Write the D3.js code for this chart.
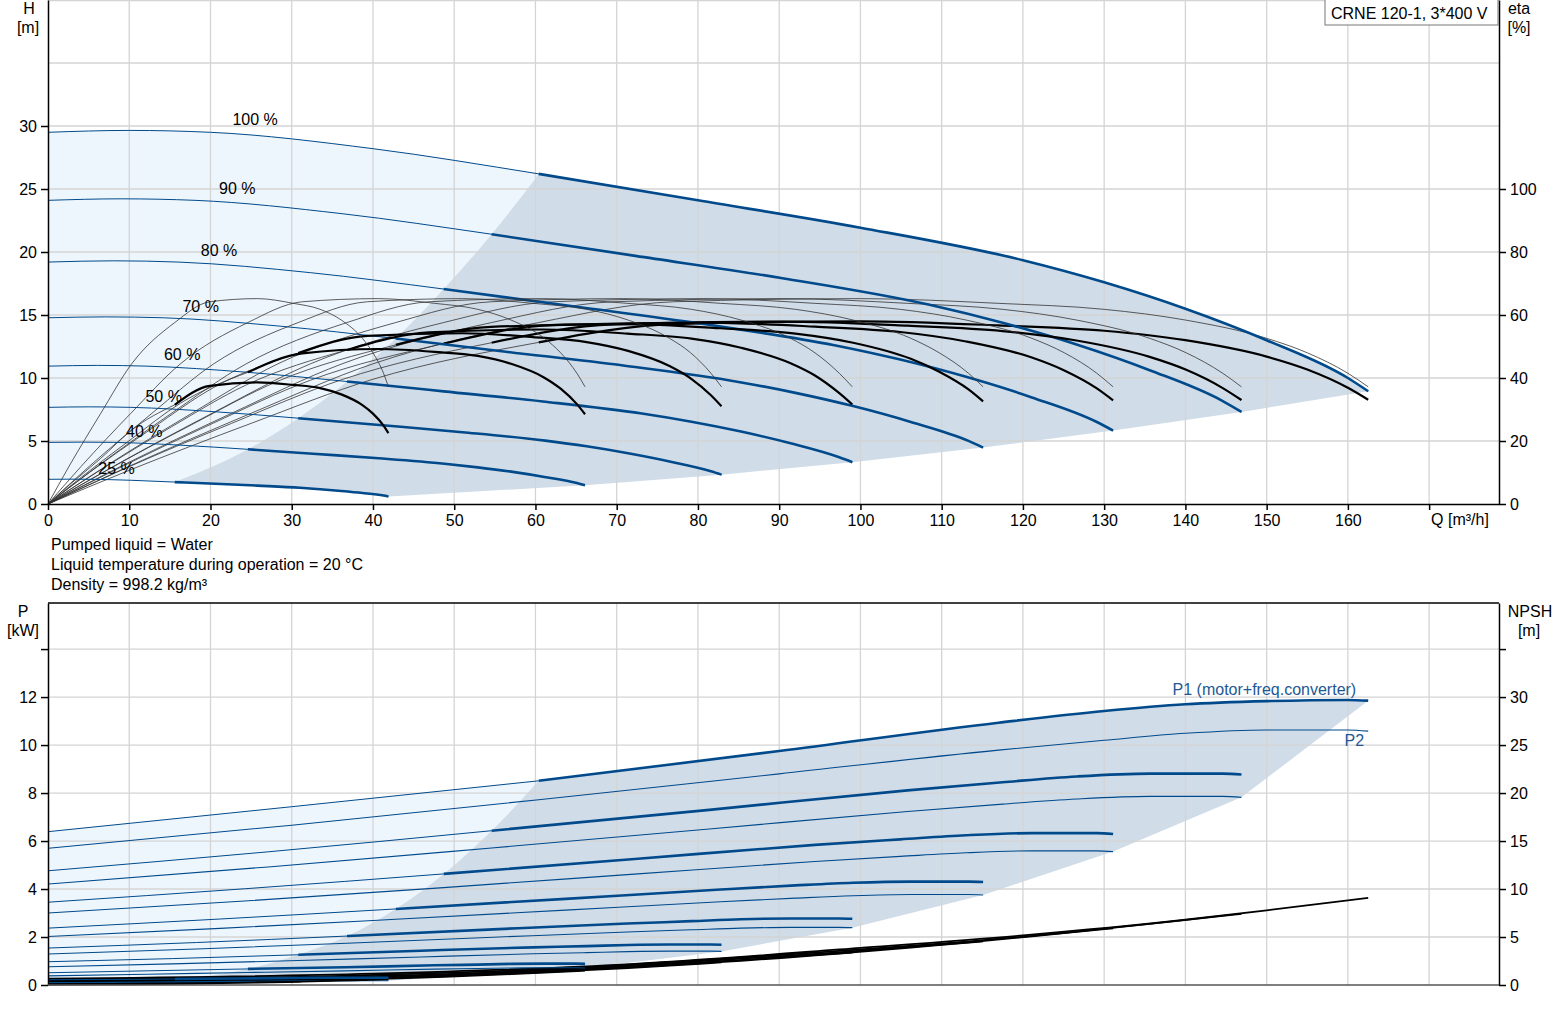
<!DOCTYPE html>
<html lang="en">
<head>
<meta charset="UTF-8">
<title>CRNE 120-1 pump curves</title>
<script src="https://d3js.org/d3.v7.min.js"></script>
<style>
  body { margin: 0; background: #fff; }
  svg { display: block; font-family: "Liberation Sans", Arial, sans-serif; }
  .axis text { font-size: 16px; fill: #000; font-family: "Liberation Sans", Arial, sans-serif; }
  .axis path, .axis line { stroke: #000; stroke-width: 1.5; }
  .lbl { font-size: 16px; fill: #000; }
</style>
</head>
<body>
<script>
// ---- data ----
const speedLabels = ["100 %", "90 %", "80 %", "70 %", "60 %", "50 %", "40 %", "25 %"];
// flow where each speed curve enters the allowed (dark) operating range
const qThick = [60.4, 54.6, 48.7, 42.8, 36.8, 30.8, 24.6, 15.6];

const qTicks = [0, 10, 20, 30, 40, 50, 60, 70, 80, 90, 100, 110, 120, 130, 140, 150, 160, 170];
const headTicks = [0, 5, 10, 15, 20, 25, 30];
const etaTicks = [0, 20, 40, 60, 80, 100];
const powerTicks = [0, 2, 4, 6, 8, 10, 12, 14];
const npshTicks = [0, 5, 10, 15, 20, 25, 30, 35];

// head H [m] vs Q [m3/h], one row per speed
const headQ = [
  [0, 10, 20, 40, 60.4, 80, 100, 120, 130, 140, 150, 160, 162.5],
  [0, 9.0, 18.1, 36.2, 54.6, 72.3, 90.4, 108.5, 117.5, 126.6, 135.6, 144.6, 146.9],
  [0, 8.1, 16.1, 32.3, 48.7, 64.6, 80.7, 96.8, 104.9, 113.0, 121.1, 129.1, 131.1],
  [0, 7.1, 14.2, 28.3, 42.8, 56.6, 70.8, 85.0, 92.0, 99.1, 106.2, 113.3, 115.1],
  [0, 6.1, 12.2, 24.4, 36.8, 48.7, 60.9, 73.1, 79.2, 85.3, 91.4, 97.4, 99.0],
  [0, 5.1, 10.2, 20.4, 30.8, 40.8, 51.0, 61.2, 66.3, 71.4, 76.5, 81.6, 82.9],
  [0, 4.1, 8.1, 16.3, 24.6, 32.6, 40.7, 48.8, 52.9, 57.0, 61.1, 65.1, 66.1],
  [0, 2.6, 5.2, 10.3, 15.6, 20.6, 25.8, 31.0, 33.5, 36.1, 38.7, 41.3, 41.9]
];
const headH = [
  [29.5, 29.65, 29.5, 28.2, 26.2, 24.1, 21.93, 19.35, 17.6, 15.5, 13.0, 10.0, 8.95],
  [24.1, 24.22, 24.1, 23.04, 21.41, 19.69, 17.92, 15.81, 14.38, 12.66, 10.62, 8.17, 7.31],
  [19.2, 19.3, 19.2, 18.36, 17.06, 15.69, 14.28, 12.6, 11.46, 10.09, 8.46, 6.51, 5.83],
  [14.78, 14.85, 14.78, 14.13, 13.13, 12.07, 10.99, 9.69, 8.82, 7.77, 6.51, 5.01, 4.48],
  [10.94, 11.0, 10.94, 10.46, 9.72, 8.94, 8.14, 7.18, 6.53, 5.75, 4.82, 3.71, 3.32],
  [7.67, 7.71, 7.67, 7.33, 6.81, 6.27, 5.70, 5.03, 4.58, 4.03, 3.38, 2.60, 2.33],
  [4.89, 4.91, 4.89, 4.67, 4.34, 3.99, 3.63, 3.20, 2.91, 2.57, 2.15, 1.66, 1.48],
  [1.96, 1.97, 1.96, 1.88, 1.74, 1.61, 1.46, 1.29, 1.17, 1.03, 0.87, 0.67, 0.60]
];

// efficiency eta [%] vs Q, one row per speed
const etaQ = [
  [0, 10, 25, 40, 60.4, 77, 100, 117, 130, 140, 150, 155, 160, 162.5],
  [0, 9.0, 22.6, 36.2, 54.6, 69.6, 90.4, 105.8, 117.5, 126.6, 135.6, 140.1, 144.6, 146.9],
  [0, 8.1, 20.2, 32.3, 48.7, 62.1, 80.7, 94.4, 104.9, 113.0, 121.1, 125.1, 129.1, 131.1],
  [0, 7.1, 17.7, 28.3, 42.8, 54.5, 70.8, 82.8, 92.0, 99.1, 106.2, 109.7, 113.3, 115.1],
  [0, 6.1, 15.2, 24.4, 36.8, 46.9, 60.9, 71.3, 79.2, 85.3, 91.4, 94.4, 97.4, 99.0],
  [0, 5.1, 12.8, 20.4, 30.8, 39.3, 51.0, 59.7, 66.3, 71.4, 76.5, 79.1, 81.6, 82.9],
  [0, 4.1, 10.2, 16.3, 24.6, 31.3, 40.7, 47.6, 52.9, 57.0, 61.1, 63.1, 65.1, 66.1],
  [0, 2.6, 6.5, 10.3, 15.6, 19.9, 25.8, 30.2, 33.5, 36.1, 38.7, 40.0, 41.3, 41.9]
];
// pump efficiency, same shape at every speed (thin lines)
const etaPump = [0, 12, 28.8, 44.5, 57.6, 64.2, 65.2, 63.7, 61.8, 58.4, 52.6, 48.0, 41.5, 37.2];
// total efficiency pump+motor+converter (thick lines)
const etaTotal = [
  [0, 10.7, 25.6, 39.6, 51.3, 57.1, 58.0, 56.7, 55.0, 52.0, 46.8, 42.7, 36.9, 33.1],
  [0, 10.7, 25.6, 39.5, 51.2, 57.0, 57.9, 56.6, 54.9, 51.9, 46.7, 42.6, 36.8, 33.0],
  [0, 10.6, 25.5, 39.3, 50.9, 56.8, 57.6, 56.3, 54.6, 51.6, 46.5, 42.4, 36.7, 32.9],
  [0, 10.5, 25.2, 39.0, 50.5, 56.2, 57.1, 55.8, 54.1, 51.2, 46.1, 42.0, 36.4, 32.6],
  [0, 10.2, 24.5, 37.8, 48.9, 54.5, 55.4, 54.1, 52.5, 49.6, 44.7, 40.8, 35.2, 31.6],
  [0, 10.0, 24.0, 37.0, 47.9, 53.4, 54.2, 53.0, 51.4, 48.6, 43.8, 39.9, 34.5, 31.0],
  [0, 8.5, 20.5, 32.0, 41.8, 47.8, 49.2, 48.3, 47.0, 44.5, 40.1, 36.6, 31.7, 28.5],
  [0, 6.0, 14.5, 23.5, 31.5, 37.5, 38.6, 37.8, 36.8, 34.8, 31.4, 28.7, 24.9, 22.5]
];

// power P [kW] vs Q, one row per speed
const powerQ = [
  [0, 30, 60.4, 90, 117, 130, 140, 150, 160, 162.5],
  [0, 27.1, 54.6, 81.4, 105.8, 117.5, 126.6, 135.6, 144.6, 146.9],
  [0, 24.2, 48.7, 72.6, 94.4, 104.9, 113.0, 121.1, 129.1, 131.1],
  [0, 21.2, 42.8, 63.7, 82.8, 92.0, 99.1, 106.2, 113.3, 115.1],
  [0, 18.3, 36.8, 54.8, 71.3, 79.2, 85.3, 91.4, 97.4, 99.0],
  [0, 15.3, 30.8, 45.9, 59.7, 66.3, 71.4, 76.5, 81.6, 82.9],
  [0, 12.2, 24.6, 36.6, 47.6, 52.9, 57.0, 61.1, 65.1, 66.1],
  [0, 7.7, 15.6, 23.2, 30.2, 33.5, 36.1, 38.7, 41.3, 41.9]
];
const powerP1 = [
  [6.39, 7.43, 8.51, 9.75, 10.93, 11.42, 11.7, 11.83, 11.88, 11.85],
  [4.76, 5.55, 6.43, 7.30, 8.11, 8.45, 8.69, 8.81, 8.81, 8.77],
  [3.45, 4.01, 4.63, 5.26, 5.84, 6.07, 6.24, 6.33, 6.33, 6.29],
  [2.37, 2.75, 3.17, 3.59, 3.98, 4.15, 4.26, 4.31, 4.31, 4.29],
  [1.54, 1.77, 2.04, 2.32, 2.56, 2.66, 2.74, 2.77, 2.77, 2.76],
  [0.97, 1.10, 1.26, 1.43, 1.57, 1.62, 1.67, 1.69, 1.69, 1.68],
  [0.51, 0.59, 0.67, 0.74, 0.82, 0.85, 0.88, 0.89, 0.89, 0.88],
  [0.22, 0.23, 0.25, 0.27, 0.29, 0.30, 0.30, 0.30, 0.30, 0.30]
];
const powerP2 = [
  [5.70, 6.66, 7.72, 8.8, 9.79, 10.2, 10.49, 10.63, 10.63, 10.58],
  [4.21, 4.92, 5.71, 6.50, 7.23, 7.54, 7.75, 7.86, 7.86, 7.82],
  [3.00, 3.50, 4.06, 4.63, 5.15, 5.36, 5.51, 5.59, 5.59, 5.56],
  [2.02, 2.36, 2.74, 3.12, 3.47, 3.62, 3.72, 3.77, 3.77, 3.75],
  [1.29, 1.50, 1.74, 1.99, 2.21, 2.30, 2.37, 2.40, 2.40, 2.39],
  [0.76, 0.88, 1.02, 1.17, 1.30, 1.35, 1.39, 1.41, 1.41, 1.40],
  [0.38, 0.45, 0.52, 0.59, 0.66, 0.69, 0.71, 0.72, 0.72, 0.71],
  [0.10, 0.11, 0.13, 0.15, 0.17, 0.18, 0.18, 0.18, 0.18, 0.18]
];

// NPSH [m] vs Q, one row per speed
const npshQ = [
  [0, 40, 70, 100, 120, 140, 150, 160, 162.5],
  [0, 36.2, 63.3, 90.4, 108.5, 126.6, 135.6, 144.6, 146.9],
  [0, 32.3, 56.5, 80.7, 96.8, 113.0, 121.1, 129.1, 131.1],
  [0, 28.3, 49.6, 70.8, 85.0, 99.1, 106.2, 113.3, 115.1],
  [0, 24.4, 42.6, 60.9, 73.1, 85.3, 91.4, 97.4, 99.0],
  [0, 20.4, 35.7, 51.0, 61.2, 71.4, 76.5, 81.6, 82.9],
  [0, 16.3, 28.5, 40.7, 48.8, 57.0, 61.1, 65.1, 66.1],
  [0, 10.3, 18.1, 25.8, 31.0, 36.1, 38.7, 41.3, 41.9]
];
const npshH = [
  [0.67, 1.18, 2.1, 3.86, 5.16, 6.8, 7.78, 8.82, 9.07],
  [0.55, 0.96, 1.72, 3.15, 4.22, 5.56, 6.36, 7.21, 7.41],
  [0.44, 0.77, 1.37, 2.51, 3.36, 4.43, 5.06, 5.74, 5.90],
  [0.34, 0.59, 1.05, 1.93, 2.59, 3.41, 3.90, 4.42, 4.54],
  [0.25, 0.44, 0.78, 1.43, 1.91, 2.52, 2.89, 3.27, 3.37],
  [0.17, 0.31, 0.55, 1.0, 1.34, 1.77, 2.02, 2.29, 2.36],
  [0.11, 0.20, 0.35, 0.64, 0.85, 1.13, 1.29, 1.46, 1.50],
  [0.04, 0.08, 0.14, 0.26, 0.34, 0.45, 0.52, 0.59, 0.60]
];

// ---- layout ----
const width = 1560, height = 1009;
const left = 48, right = 1499;
const topH = 0, bottomH = 504, topP = 603, bottomP = 985;

const blue = "#004a8c", black = "#000", gridColor = "#d4d4d4";
const lightFill = "#eef6fd", darkFill = "#d0dce8";

const x = d3.scaleLinear().domain([0, 178.6]).range([left, right]);
const yH = d3.scaleLinear().domain([0, 40]).range([bottomH, topH]);
const yEta = d3.scaleLinear().domain([0, 160]).range([bottomH, topH]);
const yP = d3.scaleLinear().domain([0, 15.92]).range([bottomP, topP]);
const yN = d3.scaleLinear().domain([0, 39.8]).range([bottomP, topP]);

const svg = d3.select("body").append("svg")
  .attr("width", width)
  .attr("height", height);

let pts = (qs, vs) => qs.map((q, i) => [q, vs[i]]);
let lineFor = (ys, curve) => d3.line().x(d => x(d[0])).y(d => ys(d[1])).curve(curve || d3.curveMonotoneX);
let fromQ = (arr, q0) => arr.filter(d => d[0] >= q0 - 1e-6);
let toQ = (arr, q0) => arr.filter(d => d[0] <= q0 + 1e-6);
let last = a => a[a.length - 1];

// segments: [points, straight?]
function joinPath(segs, ys) {
  return segs.map((s, i) => {
    const d = lineFor(ys, s[1] ? d3.curveLinear : d3.curveMonotoneX)(s[0]);
    return i ? d.replace(/^M/, "L") : d;
  }).join("") + "Z";
}

// ---- top panel fills ----
const head = headQ.map((qs, i) => pts(qs, headH[i]));
const headStarts = head.map((c, i) => fromQ(c, qThick[i])[0]);
const headEnds = head.map(c => last(c));

svg.append("path")
  .attr("d", joinPath([
    [toQ(head[0], qThick[0])],
    [headStarts],
    [toQ(head[7], qThick[7]).reverse()]
  ], yH))
  .attr("fill", lightFill);

svg.append("path")
  .attr("d", joinPath([
    [headStarts.slice().reverse()],
    [fromQ(head[0], qThick[0])],
    [headEnds, true],
    [fromQ(head[7], qThick[7]).reverse()]
  ], yH))
  .attr("fill", darkFill);

// ---- bottom panel fills ----
const p1 = powerQ.map((qs, i) => pts(qs, powerP1[i]));
const p2 = powerQ.map((qs, i) => pts(qs, powerP2[i]));
const p1Starts = p1.map((c, i) => fromQ(c, qThick[i])[0]);
const rightEdge = [last(p1[0])].concat(p2.slice(1).map(c => last(c)));

svg.append("path")
  .attr("d", joinPath([
    [toQ(p1[0], qThick[0])],
    [p1Starts],
    [toQ(p2[7], qThick[7]).reverse()]
  ], yP))
  .attr("fill", lightFill);

svg.append("path")
  .attr("d", joinPath([
    [p1Starts.slice().reverse()],
    [fromQ(p1[0], qThick[0])],
    [rightEdge, true],
    [fromQ(p2[7], qThick[7]).reverse()]
  ], yP))
  .attr("fill", darkFill);

// ---- grid ----
const grid = svg.append("g").attr("stroke", gridColor).attr("stroke-width", 1.3);
qTicks.filter(q => q > 0).forEach(q => {
  grid.append("line").attr("x1", x(q)).attr("x2", x(q)).attr("y1", topH).attr("y2", bottomH);
  grid.append("line").attr("x1", x(q)).attr("x2", x(q)).attr("y1", topP).attr("y2", bottomP);
});
d3.range(5, 41, 5).forEach(h => {
  const yy = yH(h) + (h === 40 ? 0.7 : 0);
  grid.append("line").attr("x1", left).attr("x2", right).attr("y1", yy).attr("y2", yy);
});
powerTicks.filter(p => p > 0).forEach(p => {
  grid.append("line").attr("x1", left).attr("x2", right).attr("y1", yP(p)).attr("y2", yP(p));
});

// ---- curves ----
function drawCurve(data, ys, color, w) {
  svg.append("path")
    .attr("d", lineFor(ys)(data))
    .attr("fill", "none")
    .attr("stroke", color)
    .attr("stroke-width", w);
}

for (let i = 0; i < speedLabels.length; i++) {
  const etaP = pts(etaQ[i], etaPump);
  const etaT = pts(etaQ[i], etaTotal[i]);
  const npsh = pts(npshQ[i], npshH[i]);

  // thin full-length lines
  drawCurve(head[i], yH, blue, 1);
  drawCurve(etaP, yEta, "#333", 0.8);
  drawCurve(toQ(etaT, qThick[i]), yEta, "#333", 0.8);
  drawCurve(p2[i], yP, blue, 1.1);
  drawCurve(toQ(p1[i], qThick[i]), yP, blue, 1);
  drawCurve(npsh, yN, black, 1.8);

  // thick parts inside the operating range
  drawCurve(fromQ(head[i], qThick[i]), yH, blue, 2.6);
  drawCurve(fromQ(etaT, qThick[i]), yEta, black, 2.2);
  drawCurve(fromQ(p1[i], qThick[i]), yP, blue, 2.6);
}

// ---- axes ----
svg.append("g").attr("class", "axis").attr("transform", `translate(${left},0)`)
  .call(d3.axisLeft(yH).tickValues(headTicks).tickSize(7).tickPadding(4).tickSizeOuter(0));
svg.append("g").attr("class", "axis").attr("transform", `translate(${right},0)`)
  .call(d3.axisRight(yEta).tickValues(etaTicks).tickSize(7).tickPadding(4).tickSizeOuter(0));
svg.append("g").attr("class", "axis").attr("transform", `translate(0,${bottomH})`)
  .call(d3.axisBottom(x).tickValues(qTicks).tickSize(6).tickPadding(5).tickSizeOuter(0)
    .tickFormat(d => d === 170 ? "" : d));

svg.append("g").attr("class", "axis").attr("transform", `translate(${left},0)`)
  .call(d3.axisLeft(yP).tickValues(powerTicks).tickSize(7).tickPadding(4).tickSizeOuter(0)
    .tickFormat(d => d === 14 ? "" : d));
svg.append("g").attr("class", "axis").attr("transform", `translate(${right},0)`)
  .call(d3.axisRight(yN).tickValues(npshTicks).tickSize(7).tickPadding(4).tickSizeOuter(0)
    .tickFormat(d => d === 35 ? "" : d));
svg.append("line").attr("x1", left).attr("x2", right).attr("y1", topP).attr("y2", topP)
  .attr("stroke", black).attr("stroke-width", 1.5);
svg.append("line").attr("x1", left).attr("x2", right).attr("y1", bottomP).attr("y2", bottomP)
  .attr("stroke", "#555").attr("stroke-width", 1.5);

// ---- texts ----
let label = (tx, ty, s, anchor, color) => svg.append("text")
  .attr("class", "lbl").attr("x", tx).attr("y", ty)
  .attr("text-anchor", anchor || "middle")
  .style("fill", color || "#000")
  .text(s);

label(29, 14, "H");
label(28, 33, "[m]");
label(1519, 14, "eta");
label(1519, 33, "[%]");
label(23, 617, "P");
label(23, 636, "[kW]");
label(1530, 617, "NPSH");
label(1529, 636, "[m]");
label(1460, 525, "Q [m³/h]");

label(51, 550, "Pumped liquid = Water", "start");
label(51, 570, "Liquid temperature during operation = 20 °C", "start");
label(51, 590, "Density = 998.2 kg/m³", "start");

speedLabels.forEach((s, i) => {
  const rel = last(headQ[i]) / last(headQ[0]);
  label(x(2.5 + 23 * rel), yH(headH[i][1]) - 5, s);
});

label(x(last(powerQ[0])) - 12, yP(last(powerP1[0])) - 6, "P1 (motor+freq.converter)", "end", "#1d5894");
label(x(last(powerQ[0])) - 4, yP(last(powerP2[0])) + 15, "P2", "end", "#1d5894");

svg.append("rect")
  .attr("x", 1325).attr("y", -1).attr("width", 173).attr("height", 26)
  .attr("fill", "#fff").attr("stroke", "#777").attr("stroke-width", 1);
label(1331, 19, "CRNE 120-1, 3*400 V", "start");
</script>
</body>
</html>
